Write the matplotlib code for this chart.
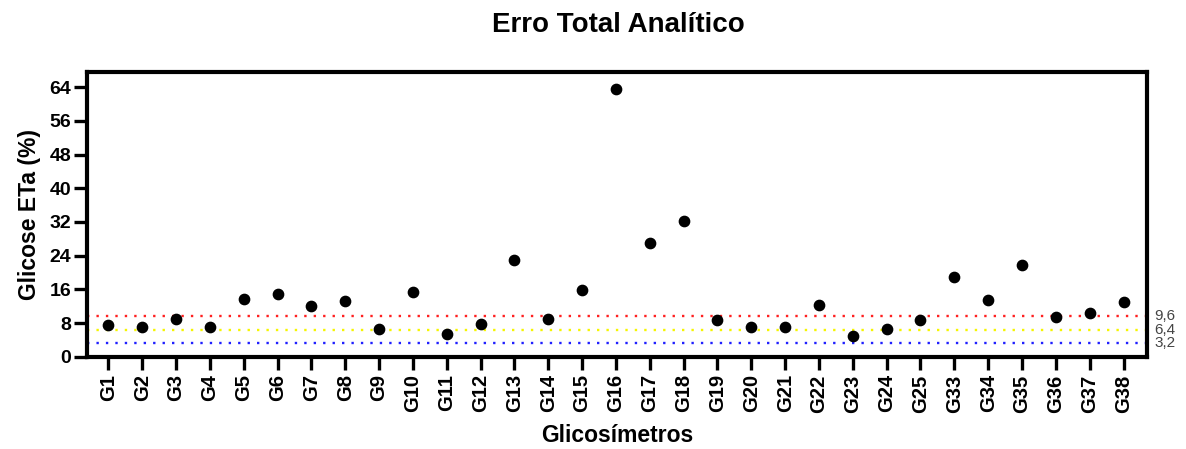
import matplotlib
matplotlib.use("Agg")
import matplotlib.pyplot as plt

plt.rcParams['font.family'] = ['Liberation Sans', 'DejaVu Sans']

# Data
glicosimetros = ["G1", "G2", "G3", "G4", "G5", "G6", "G7", "G8", "G9", "G10",
                 "G11", "G12", "G13", "G14", "G15", "G16", "G17", "G18", "G19", "G20",
                 "G21", "G22", "G23", "G24", "G25", "G33", "G34", "G35", "G36", "G37", "G38"]
eta = [7.6, 7.2, 9.1, 7.2, 13.7, 15.0, 12.0, 13.2, 6.6, 15.3,
       5.5, 7.8, 22.9, 9.1, 15.9, 63.5, 27.1, 32.2, 8.8, 7.0,
       7.2, 12.3, 4.9, 6.6, 8.8, 18.9, 13.4, 21.9, 9.5, 10.4, 13.1]
# reference limits
limites = [9.6, 6.4, 3.2]
limite_labels = ["9,6", "6,4", "3,2"]
limite_cores = ["#ff2020", "#f5f500", "#2020ff"]
yticks = list(range(0, 65, 8))

n = len(glicosimetros)

fig = plt.figure(figsize=(11.86, 4.49), dpi=100)
ax = fig.add_axes([0.0734, 0.205, 0.8936, 0.635])

x = list(range(n))
ax.scatter(x, eta, s=55, color="black", zorder=3)

for val, lab, cor in zip(limites, limite_labels, limite_cores):
    ax.axhline(val, color=cor, lw=1.7, dashes=(1, 3), zorder=2)
    ax.text(1.007, val, lab, transform=ax.get_yaxis_transform(),
            va="center", ha="left", fontsize=11, color="#444444")

ax.set_xlim(-0.63, n - 1 + 0.69)
ax.set_ylim(0, 67.6)
ax.set_yticks(yticks)
ax.set_xticks(x)
ax.set_xticklabels(glicosimetros, rotation=90, fontsize=14.5, fontweight="bold")
for t in ax.get_yticklabels():
    t.set_fontsize(14)
    t.set_fontweight("bold")

for sp in ax.spines.values():
    sp.set_linewidth(3)
ax.tick_params(axis="both", direction="out", length=9.5, width=2.4, pad=2)
ax.tick_params(axis="x", pad=3)

ax.set_ylabel("Glicose ETa (%)", fontsize=16.5, fontweight="bold", labelpad=6)
ax.set_xlabel("Glicosímetros", fontsize=16.5, fontweight="bold", labelpad=8)
fig.text(0.521, 0.944, "Erro Total Analítico", ha="center", va="center",
         fontsize=20, fontweight="bold")

fig.savefig("out.png", dpi=100)
